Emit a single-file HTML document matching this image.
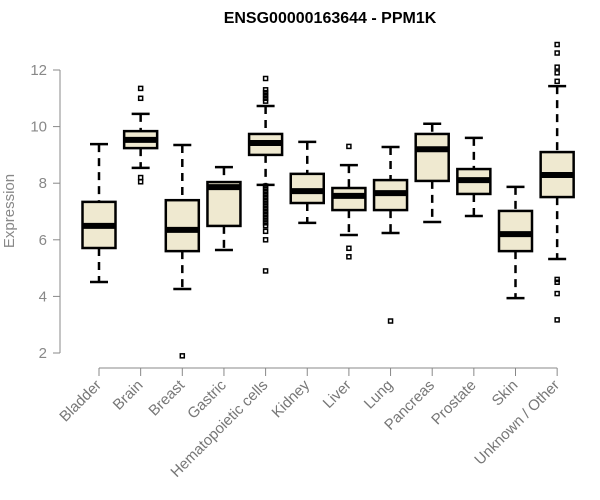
<!DOCTYPE html>
<html><head><meta charset="utf-8"><style>
body{margin:0;background:#fff;}
svg{display:block;font-family:"Liberation Sans",sans-serif;}
</style></head><body>
<svg id="chart" width="600" height="500">
<text x="330" y="23" text-anchor="middle" font-weight="bold" font-size="16">ENSG00000163644 - PPM1K</text>
<text x="14" y="211" transform="rotate(-90 14 211)" text-anchor="middle" font-size="15" fill="#888">Expression</text>
<g id="yaxis"></g>
<g id="xaxis"></g>
<g id="boxes"></g>
</svg>
<script>
const categories=["Bladder","Brain","Breast","Gastric","Hematopoietic cells","Kidney","Liver","Lung","Pancreas","Prostate","Skin","Unknown / Other"];
const lowWhisker=[4.51,8.54,4.26,5.64,7.94,6.6,6.17,6.24,6.63,6.84,3.94,5.32];
const q1=[5.71,9.24,5.6,6.49,9.0,7.3,7.05,7.05,8.08,7.62,5.6,7.51];
const median=[6.49,9.53,6.35,7.86,9.42,7.72,7.55,7.65,9.2,8.11,6.2,8.29];
const q3=[7.34,9.84,7.4,8.04,9.74,8.33,7.83,8.11,9.74,8.5,7.02,9.1];
const highWhisker=[9.38,10.45,9.35,8.57,10.73,9.46,8.64,9.28,10.1,9.6,7.87,11.43];
const outliers=[[],[11.35,11.0,8.2,8.05],[1.9],[],[11.7,11.3,11.2,11.1,11.0,10.9,7.9,7.8,7.7,7.6,7.5,7.4,7.3,7.2,7.1,7.0,6.9,6.8,6.7,6.6,6.5,6.3,6.0,4.9],[],[9.3,5.7,5.4],[3.13],[],[],[],[12.9,12.6,12.1,11.9,11.6,4.6,4.5,4.1,3.17]];
const yTicks=[2,4,6,8,10,12];
const NS="http://www.w3.org/2000/svg";
const y=v=>353-(v-2)*28.3;
const x=i=>99+i*41.65;
function mk(t,a,p){const e=document.createElementNS(NS,t);for(const k in a)e.setAttribute(k,a[k]);p.appendChild(e);return e;}
const ya=document.getElementById('yaxis');
let l=mk('line',{x1:60,x2:60,y1:y(12),y2:y(2),stroke:'#888'},ya);


yTicks.forEach(v=>{
 const t=mk('line',{x1:53,x2:60,y1:y(v),y2:y(v),stroke:'#888'},ya);
 
 
 const tx=mk('text',{x:47,y:y(v)+5,'text-anchor':'end','font-size':15,fill:'#888'},ya);
 tx.textContent=v;
 
 
});
const xa=document.getElementById('xaxis');
l=mk('line',{x1:x(0),x2:x(categories.length-1),y1:368,y2:368,stroke:'#888'},xa);


const bg=document.getElementById('boxes');
categories.forEach((c,i)=>{
 const cx=x(i);
 const t=mk('line',{x1:cx,x2:cx,y1:368,y2:376,stroke:'#888'},xa);
 
 
 const tx=mk('text',{x:cx+3,y:386,'text-anchor':'end','font-size':15,fill:'#777',transform:`rotate(-45 ${cx+3} 386)`},xa);
 tx.textContent=c;
 
 
 const g=mk('g',{},bg);
 
 
 mk('line',{x1:cx,x2:cx,y1:y(highWhisker[i]),y2:y(q3[i]),stroke:'#000','stroke-width':2.5,'stroke-dasharray':'8,6'},g);
 mk('line',{x1:cx,x2:cx,y1:y(q1[i]),y2:y(lowWhisker[i]),stroke:'#000','stroke-width':2.5,'stroke-dasharray':'8,6'},g);
 mk('line',{x1:cx-9,x2:cx+9,y1:y(highWhisker[i]),y2:y(highWhisker[i]),stroke:'#000','stroke-width':2.5},g);
 mk('line',{x1:cx-9,x2:cx+9,y1:y(lowWhisker[i]),y2:y(lowWhisker[i]),stroke:'#000','stroke-width':2.5},g);
 mk('rect',{x:cx-16.5,y:y(q3[i]),width:33,height:y(q1[i])-y(q3[i]),fill:'#efe9d0',stroke:'#000','stroke-width':2.5},g);
 mk('line',{x1:cx-16.5,x2:cx+16.5,y1:y(median[i]),y2:y(median[i]),stroke:'#000','stroke-width':6},g);
 outliers[i].forEach(v=>{
  const o=mk('rect',{x:cx-2,y:y(v)-2,width:4,height:4,fill:'none',stroke:'#000','stroke-width':1.5},g);
  
  
 });
});
</script>
</body></html>
